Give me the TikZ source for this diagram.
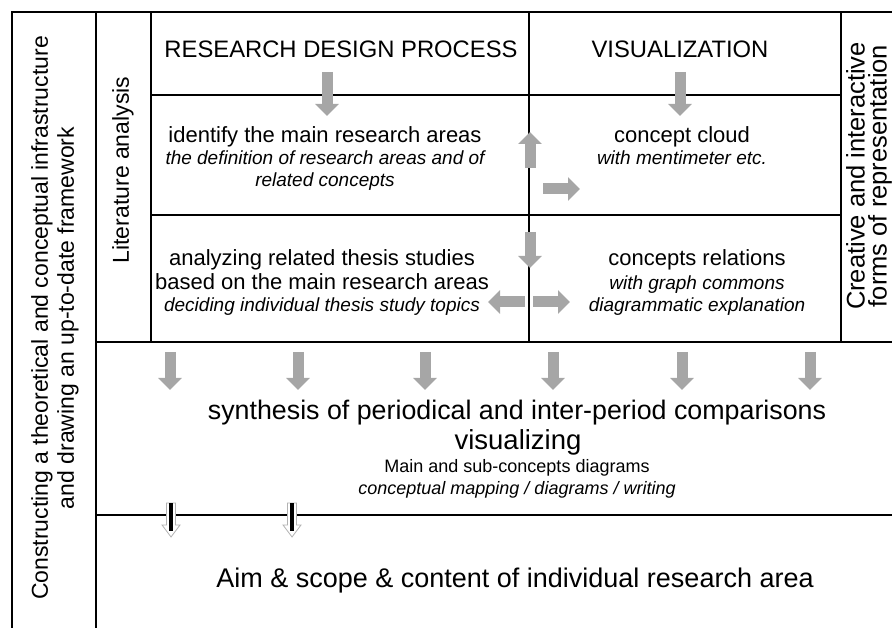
\documentclass[tikz,border=0pt]{standalone}
\usepackage{fontspec}
\setmainfont{Liberation Sans}
\usetikzlibrary{positioning}
\usetikzlibrary{arrows.meta}
\definecolor{arrowgrey}{RGB}{166,166,166}
\tikzset{
	gridline/.style={line width=1.8pt},
	greyarrow/.style={draw=arrowgrey, line width=11pt, -{Triangle[length=12pt,width=23pt]}},
	hollowarrow/.style={draw=gray!60, fill=white, line width=0.8pt},
	colhead/.style={font=\fontsize{23.8}{26}\selectfont, anchor=base, inner sep=0pt},
	celltitle/.style={font=\fontsize{22}{24}\selectfont, anchor=base, inner sep=0pt},
	cellnote/.style={font=\fontsize{19}{21}\selectfont\itshape, anchor=base, inner sep=0pt},
	sidetext/.style={rotate=90, align=center, inner sep=0pt},
}

\begin{document}
\begin{tikzpicture}[x=1pt,y=-1pt]
			\useasboundingbox (0,0) rectangle (892,628);
			% table
			\draw[gridline] (12,640) -- (12,12) -- (900,12);
			\draw[gridline] (96,12) -- (96,640);
			\draw[gridline] (151,12) -- (151,342);
			\draw[gridline] (529,12) -- (529,342);
			\draw[gridline] (841,12) -- (841,342);
			\draw[gridline] (151,95) -- (841,95);
			\draw[gridline] (151,215) -- (841,215);
			\draw[gridline] (96,342) -- (900,342);
			\draw[gridline] (96,515) -- (900,515);
			% side columns
			\node at (55,318) (frame) [sidetext, font=\fontsize{23}{26}\selectfont] {Constructing a theoretical and conceptual infrastructure\\and drawing an up-to-date framework};
			\node at (123,170) (litan) [sidetext, font=\fontsize{23}{26}\selectfont] {Literature analysis};
			\node at (869,176) (creative) [sidetext, font=\fontsize{25.5}{22}\selectfont] {Creative and interactive\\forms of representation};
			% headings
			\node at (341,58) (rdp) [colhead] {RESEARCH DESIGN PROCESS};
			\node at (680,58) (vis) [colhead] {VISUALIZATION};
			% cells
			\node at (325,143) (areas) [celltitle] {identify the main research areas};
			\node at (325,165) (areasa) [cellnote] {the definition of research areas and of};
			\node at (325,187) (areasb) [cellnote] {related concepts};
			\node at (682,143) (cloud) [celltitle] {concept cloud};
			\node at (682,165) (clouda) [cellnote] {with mentimeter etc.};
			\node at (322,266) (thesis) [celltitle] {analyzing related thesis studies};
			\node at (322,290) (thesisa) [celltitle] {based on the main research areas};
			\node at (322,312) (thesisb) [cellnote] {deciding individual thesis study topics};
			\node at (697,266) (rel) [celltitle] {concepts relations};
			\node at (697,290) (rela) [cellnote] {with graph commons};
			\node at (697,312) (relb) [cellnote] {diagrammatic explanation};
			% synthesis block
			\node at (517,420) (synth) [celltitle, font=\fontsize{26.8}{28}\selectfont] {synthesis of periodical and inter-period comparisons};
			\node at (518,449) (visz) [celltitle, font=\fontsize{27.5}{28}\selectfont] {visualizing};
			\node at (517,472) (diag) [celltitle, font=\fontsize{18}{20}\selectfont] {Main and sub-concepts diagrams};
			\node at (517,494) (diaga) [cellnote, font=\fontsize{18}{20}\selectfont\itshape] {conceptual mapping / diagrams / writing};
			\node at (515,587) (aim) [celltitle, font=\fontsize{27}{28}\selectfont] {Aim \& scope \& content of individual research area};
			% grey arrows
			\coordinate (rdpa) at (327,72); \draw[greyarrow] (rdpa) -- ++(0,44);
			\coordinate (visa) at (680,72); \draw[greyarrow] (visa) -- ++(0,44);
			\coordinate (upa) at (530,168); \draw[greyarrow] (upa) -- ++(0,-36);
			\coordinate (ra) at (543,189); \draw[greyarrow] (ra) -- ++(37,0);
			\coordinate (dna) at (530,232); \draw[greyarrow] (dna) -- ++(0,36);
			\coordinate (la) at (525,302); \draw[greyarrow] (la) -- ++(-37,0);
			\coordinate (rb) at (533,302); \draw[greyarrow] (rb) -- ++(37,0);
			\foreach \x [count=\i] in {170,298,425,553,682,810}
				{\coordinate (sa\i) at (\x,352); \draw[greyarrow] (sa\i) -- ++(0,38);}
			% hollow arrows
			\foreach \x [count=\i] in {171,292}
				{\coordinate (ha\i) at (\x,503);
				\draw[hollowarrow] (ha\i) ++(-4.5,0) -- ++(0,22) -- ++(-4.5,0) -- ++(9,12) -- ++(9,-12) -- ++(-4.5,0) -- ++(0,-22) -- cycle;
				\draw[line width=4pt] (ha\i) -- ++(0,28);}
\end{tikzpicture}
\end{document}
